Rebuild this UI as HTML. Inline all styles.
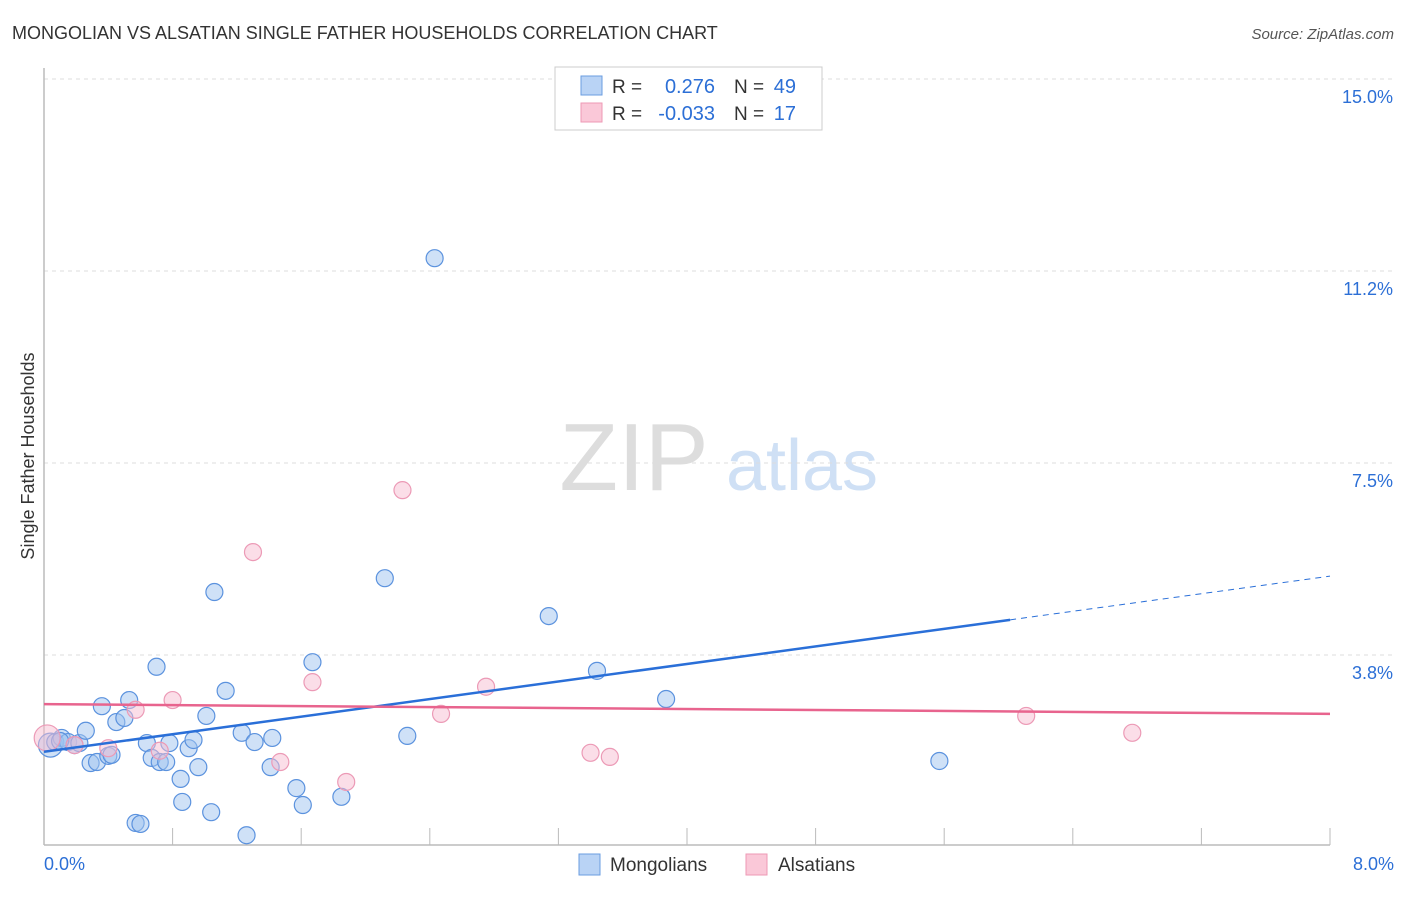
<!DOCTYPE html>
<html><head><meta charset="utf-8"><style>
body{margin:0;background:#fff;font-family:"Liberation Sans",sans-serif;}
svg text{font-family:"Liberation Sans",sans-serif;}
</style></head><body>
<svg width="1406" height="892" id="c">
<text x="12" y="39" font-size="18" fill="#333">MONGOLIAN VS ALSATIAN SINGLE FATHER HOUSEHOLDS CORRELATION CHART</text>
<text x="1394" y="39" font-size="15" fill="#555" font-style="italic" text-anchor="end">Source: ZipAtlas.com</text>
<text x="34" y="456" font-size="18" fill="#333" transform="rotate(-90 34 456)" text-anchor="middle">Single Father Households</text>
<g><text x="634" y="490" font-size="96" fill="#ddd" font-family="Liberation Serif" text-anchor="middle">ZIP</text><text x="802" y="490" font-size="72" fill="#cfe0f5" text-anchor="middle">atlas</text></g>
<g id="grid"></g><g id="axes"></g><g id="pts"></g><g id="trend"></g>
<g>
<rect x="555" y="67" width="267" height="63" fill="#fff" stroke="#ccc"/>
<rect x="581" y="76" width="21" height="19" fill="#b9d3f5" stroke="#6a9de0"/>
<rect x="581" y="103" width="21" height="19" fill="#fac8d8" stroke="#ee99b5"/>
<text x="612" y="93" font-size="19" fill="#333">R = </text><text x="715" y="93" font-size="20" fill="#2c6fd6" text-anchor="end">0.276</text>
<text x="734" y="93" font-size="19" fill="#333">N = </text><text x="796" y="93" font-size="20" fill="#2c6fd6" text-anchor="end">49</text>
<text x="612" y="120" font-size="19" fill="#333">R = </text><text x="715" y="120" font-size="20" fill="#2c6fd6" text-anchor="end">-0.033</text>
<text x="734" y="120" font-size="19" fill="#333">N = </text><text x="796" y="120" font-size="20" fill="#2c6fd6" text-anchor="end">17</text>
</g>
<g>
<rect x="579" y="854" width="21" height="21" fill="#b9d3f5" stroke="#6a9de0"/><text x="610" y="871" font-size="19" fill="#333">Mongolians</text>
<rect x="746" y="854" width="21" height="21" fill="#fac8d8" stroke="#ee99b5"/><text x="778" y="871" font-size="19" fill="#333">Alsatians</text>
</g>
</svg>
<script>
const yTicks=[3.75,7.5,11.25,15];
const yTickLabels=["3.8%","7.5%","11.2%","15.0%"];
const xTickLabels=["0.0%","8.0%"];
const mongX=[0.04,0.07,0.11,0.15,0.19,0.22,0.26,0.29,0.33,0.36,0.40,0.42,0.45,0.50,0.53,0.57,0.60,0.64,0.67,0.70,0.72,0.76,0.78,0.85,0.86,0.90,0.93,0.96,1.01,1.04,1.06,1.13,1.23,1.26,1.31,1.41,1.42,1.57,1.61,1.67,1.85,2.12,2.26,2.43,3.14,3.44,3.87,5.57,0.10];
const mongY=[1.99,2.05,2.13,2.05,1.99,2.03,2.27,1.64,1.66,2.75,1.78,1.80,2.44,2.52,2.87,0.47,0.45,2.03,1.74,3.52,1.66,1.66,2.03,1.33,0.88,1.93,2.09,1.56,2.56,0.68,4.98,3.05,2.23,0.23,2.05,1.56,2.13,1.15,0.82,3.61,0.98,5.25,2.17,11.50,4.51,3.44,2.89,1.68,2.07];
const alsX=[0.02,0.19,0.40,0.57,0.72,0.80,1.30,1.47,1.67,1.88,2.23,2.47,2.75,3.40,3.52,6.11,6.77];
const alsY=[2.13,1.99,1.93,2.68,1.88,2.87,5.76,1.66,3.22,1.27,6.97,2.60,3.13,1.84,1.76,2.56,2.23];
const mongTrend=[1.86,5.29];const mongSolidEnd=6.01;
const alsTrend=[2.79,2.60];
const NS="http://www.w3.org/2000/svg";
const X=v=>44+v*160.75, Y=v=>847-v*51.2;
function mk(tag,attrs,parent){const e=document.createElementNS(NS,tag);for(const k in attrs)e.setAttribute(k,attrs[k]);document.getElementById(parent).appendChild(e);return e;}
yTicks.forEach((t,i)=>{
 const l=mk('line',{x1:44,x2:1394,y1:Y(t),y2:Y(t),stroke:'#ddd','stroke-dasharray':'4,4'},'grid');
 
 
 const tx=mk('text',{x:1393,y:Y(t)+24,'font-size':18,fill:'#2c6fd6','text-anchor':'end'},'grid');tx.textContent=yTickLabels[i];
 
 
});
const ax=mk('line',{x1:44,x2:44,y1:68,y2:845,stroke:'#bbb','stroke-width':1.5},'axes');


const bx=mk('line',{x1:44,x2:1330,y1:845,y2:845,stroke:'#bbb','stroke-width':1.5},'axes');


for(let i=1;i<=10;i++){const t=mk('line',{x1:44+i*128.6,x2:44+i*128.6,y1:828,y2:845,stroke:'#bbb'},'axes');
 
 }
[[0,'start',44],[8,'end',1394]].forEach((d,i)=>{const t=mk('text',{x:d[2],y:870,'font-size':18,fill:'#2c6fd6','text-anchor':d[1]},'axes');t.textContent=xTickLabels[i];
 
 });
mongX.forEach((x,i)=>{const c=mk('circle',{cx:X(x),cy:Y(mongY[i]),r:i==0?12:8.5,fill:'rgba(160,195,240,0.5)',stroke:'#5b92de','stroke-width':1.2},'pts');
 
 });
alsX.forEach((x,i)=>{const c=mk('circle',{cx:X(x),cy:Y(alsY[i]),r:i==0?13:8.5,fill:'rgba(248,190,210,0.5)',stroke:'#ec9ab6','stroke-width':1.2},'pts');
 
 });
const my=x=>mongTrend[0]+(mongTrend[1]-mongTrend[0])*x/8;
const m1=mk('line',{x1:X(0),y1:Y(my(0)),x2:X(mongSolidEnd),y2:Y(my(mongSolidEnd)),stroke:'#2a6fd8','stroke-width':2.5},'trend');


const m2=mk('line',{x1:X(mongSolidEnd),y1:Y(my(mongSolidEnd)),x2:X(8),y2:Y(my(8)),stroke:'#2a6fd8','stroke-width':1,'stroke-dasharray':'6,5'},'trend');


const a1=mk('line',{x1:X(0),y1:Y(alsTrend[0]),x2:X(8),y2:Y(alsTrend[1]),stroke:'#e8648e','stroke-width':2.5},'trend');


</script>
</body></html>
